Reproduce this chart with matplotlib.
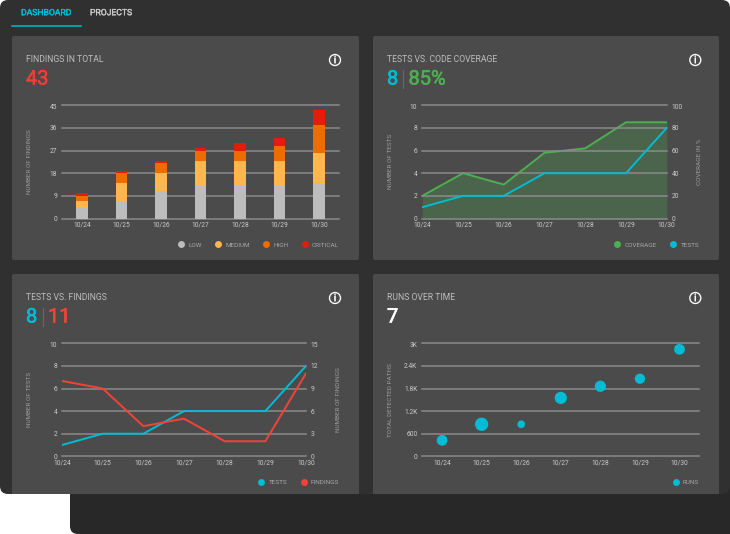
import matplotlib
matplotlib.use("Agg")
import matplotlib.pyplot as plt
import matplotlib.patheffects as pe
from matplotlib.lines import Line2D
from matplotlib.patches import Circle, FancyBboxPatch, Rectangle
from matplotlib.transforms import ScaledTranslation

W, H = 730, 534

DATES = ["10/24", "10/25", "10/26", "10/27", "10/28", "10/29", "10/30"]

# findings per severity
low = [4, 7, 11, 13, 13, 13, 14]
medium = [3, 7, 7, 10, 10, 10, 12]
high = [2, 4, 4, 4, 4, 6, 11]
critical = [1, 1, 1, 1, 3, 3, 6]

tests = [1, 2, 2, 4, 4, 4, 8]
coverage = [20, 40, 30, 58, 62, 85, 85]
findings = [10, 9, 4, 5, 2, 2, 11]

detected_paths = [425, 850, 850, 1550, 1860, 2060, 2840]
run_sizes = [60, 92, 31, 78, 66, 55, 60]

path_ticks = [0, 600, 1200, 1800, 2400, 3000]
path_labels = ["0", "600", "1.2K", "1.8K", "2.4K", "3K"]

BACK = "#282828"
PANEL = "#303030"
CARD = "#4b4b4b"
GRID = "#8a8a8a"
TEXT = "#cccccc"
TITLE = "#bdbdbd"
CYAN = "#00bcd4"
GREEN = "#4caf50"
RED = "#f44336"
BIG_RED = "#f23c36"
GREY_BAR = "#bdbdbd"
AMBER = "#ffb74d"
ORANGE = "#ef6c00"
DRED = "#e51c0c"

plt.rcParams["font.family"] = ["Roboto", "DejaVu Sans"]
TICK_SIZE = 4.8
LABEL_SIZE = 4.55


def px_axes(fig, x0, x1, y_top, y_bottom):
    return fig.add_axes([x0 / W, 1 - y_bottom / H, (x1 - x0) / W, (y_bottom - y_top) / H])


def style_scale(ax, ticks, ylabel, label_x):
    ax.set_facecolor("none")
    ax.set_yticks(ticks)
    ax.set_ylim(ticks[0], ticks[-1])
    ax.tick_params(length=0, labelsize=TICK_SIZE, labelcolor=TEXT, pad=3.5)
    ax.tick_params(axis="x", pad=2.4)
    for side in ax.spines:
        ax.spines[side].set_visible(False)
    ax.set_ylabel(ylabel, fontsize=LABEL_SIZE, color="#9c9c9c")
    pos = ax.get_position()
    ax.yaxis.set_label_coords((label_x / W - pos.x0) / pos.width, 0.5)


def style_axes(ax, ticks, ylabel, label_x):
    style_scale(ax, ticks, ylabel, label_x)
    ax.grid(axis="y", color=GRID, lw=1.1, zorder=0)
    for line in ax.get_ygridlines():
        line.set_clip_on(False)
    ax.set_axisbelow(True)


def nudge_top_tick(ax):
    # only the top label sits a bit under its grid line
    shift = ScaledTranslation(0, -1.3 / 100, ax.figure.dpi_scale_trans)
    label = ax.get_yticklabels()[-1]
    label.set_transform(label.get_transform() + shift)


def add_legend(ax, names, colors, right_px, y_px):
    handles = [
        Line2D([], [], ls="", marker="o", ms=5, mec="none", color=c, label=n)
        for n, c in zip(names, colors)
    ]
    ax.legend(
        handles=handles, ncols=len(names), loc="center right", frameon=False,
        bbox_to_anchor=(right_px / W, 1 - y_px / H), bbox_transform=ax.figure.transFigure,
        fontsize=4.6, labelcolor="#a8a8a8", borderpad=0, borderaxespad=0,
        handlelength=1, handletextpad=0.6, columnspacing=2.1,
    )


fig = plt.figure(figsize=(W / 100, H / 100), dpi=100, facecolor="white")

#######################
# BACKGROUND

bg = fig.add_axes([0, 0, 1, 1])
bg.set_xlim(0, W)
bg.set_ylim(H, 0)
bg.axis("off")

bg.add_patch(FancyBboxPatch((70, 400), 720, 134, boxstyle="round,pad=0,rounding_size=8", fc=BACK, ec="none"))
bg.add_patch(FancyBboxPatch((0, 0), 730, 494, boxstyle="round,pad=0,rounding_size=8", fc=PANEL, ec="none"))

clip = Rectangle((0, 0), W, 494, transform=bg.transData)
for x, y, h in [(12, 36, 224), (373, 36, 224), (12, 274, 240), (373, 274, 240)]:
    card = FancyBboxPatch((x, y), 347 if x == 12 else 346, h, boxstyle="round,pad=0,rounding_size=2", fc=CARD, ec="none")
    bg.add_patch(card)
    card.set_clip_path(clip)

# tabs
tab_bold = [pe.withStroke(linewidth=0.25, foreground=CYAN)]
bg.text(21, 12.7, "DASHBOARD", color=CYAN, fontsize=6.2, va="center", path_effects=tab_bold)
bg.text(90, 12.7, "PROJECTS", color="#c8c8c8", fontsize=6.2, va="center",
        path_effects=[pe.withStroke(linewidth=0.25, foreground="#c8c8c8")])
bg.plot([12, 81], [26, 26], color=CYAN, lw=1.1)

# card headers
for x, y, title in [
    (26.5, 60, "FINDINGS IN TOTAL"),
    (387, 60, "TESTS VS. CODE COVERAGE"),
    (26.5, 298, "TESTS VS. FINDINGS"),
    (387, 298, "RUNS OVER TIME"),
]:
    bg.text(x, y, title, color=TITLE, fontsize=6.25, va="center")

for x, y in [(335, 60), (695.3, 60), (335, 298), (695.3, 298)]:
    bg.add_patch(Circle((x, y), 5.5, fc="none", ec="white", lw=0.95))
    bg.text(x, y + 0.2, "i", color="white", fontsize=7.5, ha="center", va="center",
            path_effects=[pe.withStroke(linewidth=0.2, foreground="white")])


def big_number(x, y, text, color):
    bg.text(x, y, text, color=color, fontsize=14.4, va="center",
            path_effects=[pe.withStroke(linewidth=0.45, foreground=color)])


big_number(26, 79, "43", BIG_RED)
big_number(387, 79, "8", CYAN)
bg.plot([403, 403], [70, 88], color="#666666", lw=0.9)
big_number(408.5, 79, "85%", GREEN)
big_number(26, 317, "8", CYAN)
bg.plot([42.5, 42.5], [308, 326], color="#666666", lw=0.9)
big_number(48, 317, "11", RED)
big_number(387, 317, "7", "white")

#######################
# FINDINGS IN TOTAL

ax = px_axes(fig, 62, 339, 105.3, 218.5)
style_axes(ax, [0, 9, 18, 27, 36, 45], "NUMBER OF FINDINGS", 32.3)
bottom = [0] * len(DATES)
for values, color in [(low, GREY_BAR), (medium, AMBER), (high, ORANGE), (critical, DRED)]:
    ax.bar(DATES, values, bottom=bottom, width=0.295, color=color, zorder=2)
    bottom = [b + v for b, v in zip(bottom, values)]
ax.set_xlim(-0.5, 6.5)
nudge_top_tick(ax)
add_legend(ax, ["LOW", "MEDIUM", "HIGH", "CRITICAL"], [GREY_BAR, AMBER, ORANGE, DRED], 339, 245)

#######################
# TESTS VS. CODE COVERAGE

ax = px_axes(fig, 422.3, 666.7, 105.3, 218.5)
style_axes(ax, [0, 2, 4, 6, 8, 10], "NUMBER OF TESTS", 393)
right = ax.twinx()
style_scale(right, [0, 20, 40, 60, 80, 100], "COVERAGE IN %", 696.7)
right.fill_between(range(7), coverage, color=GREEN, alpha=0.25, lw=0)
right.plot(range(7), coverage, color=GREEN, lw=1.4)
ax.set_zorder(right.get_zorder() + 1)
ax.plot(DATES, tests, color=CYAN, lw=1.4)
ax.set_xlim(0, 6)
nudge_top_tick(ax)
nudge_top_tick(right)
add_legend(ax, ["COVERAGE", "TESTS"], [GREEN, CYAN], 699, 245)

#######################
# TESTS VS. FINDINGS

ax = px_axes(fig, 62, 306, 343.3, 456.3)
style_axes(ax, [0, 2, 4, 6, 8, 10], "NUMBER OF TESTS", 32.3)
right = ax.twinx()
style_scale(right, [0, 3, 6, 9, 12, 15], "NUMBER OF FINDINGS", 336)
ax.plot(DATES, tests, color=CYAN, lw=1.4)
right.plot(range(7), findings, color=RED, lw=1.4)
ax.set_xlim(0, 6)
nudge_top_tick(ax)
nudge_top_tick(right)
add_legend(right, ["TESTS", "FINDINGS"], [CYAN, RED], 339, 482.7)

#######################
# RUNS OVER TIME

ax = px_axes(fig, 422.3, 699.3, 343.3, 456.3)
style_axes(ax, path_ticks, "TOTAL DETECTED PATHS", 392.7)
ax.set_yticklabels(path_labels)
ax.scatter(DATES, detected_paths, s=run_sizes, color=CYAN, lw=0, zorder=3)
ax.set_xlim(-0.5, 6.5)
nudge_top_tick(ax)
add_legend(ax, ["RUNS"], [CYAN], 699, 482.7)

fig.savefig("out.png", dpi=100)
